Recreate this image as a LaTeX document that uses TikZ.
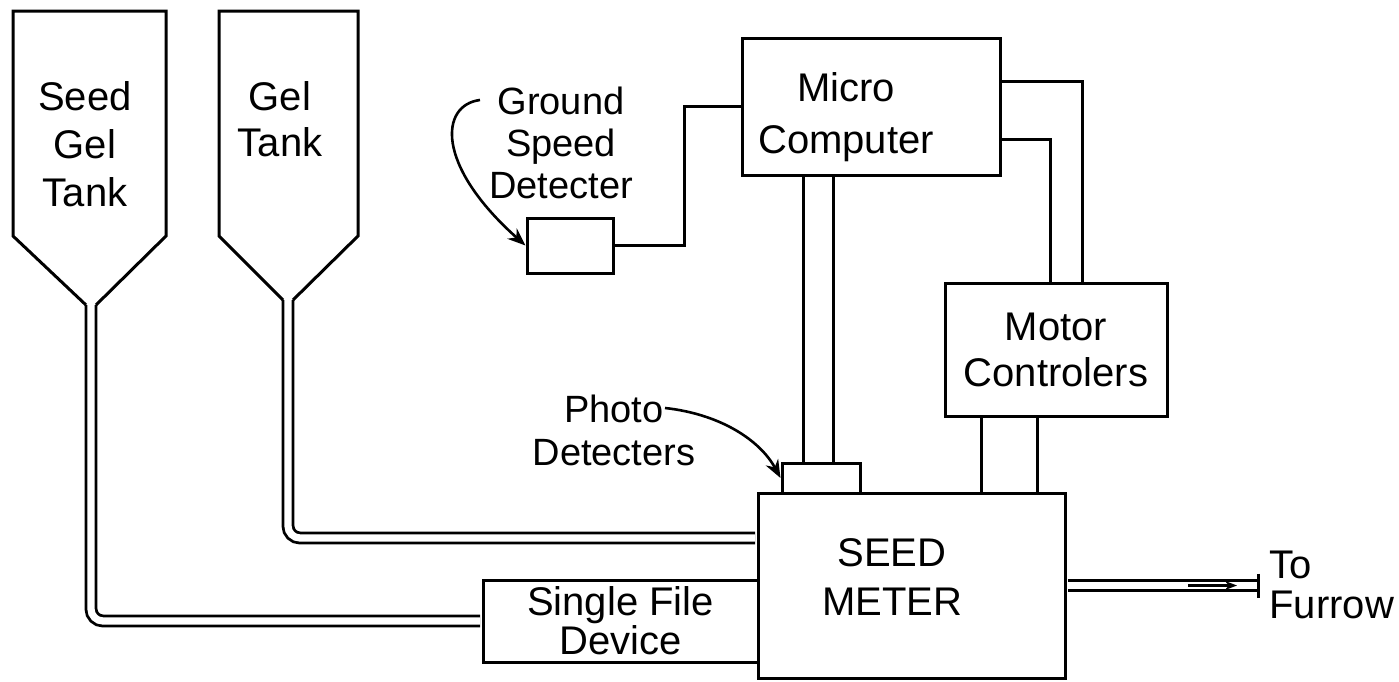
\documentclass[tikz,border=0pt]{standalone}
\usepackage{fontspec}
\setmainfont{Liberation Sans}
\usetikzlibrary{arrows.meta,positioning,calc}
\tikzset{
  blockbox/.style={draw, rectangle, inner sep=0pt, align=center},
  tube/.style={double, double distance=3.6pt, line width=1.4pt, rounded corners=6pt},
  pointer/.style={line width=1.3pt, -{Stealth[length=9pt,width=7pt]}},
  lbl/.style={align=center, inner sep=0pt}
}

\begin{document}
\begin{tikzpicture}[x=0.5pt, y=-0.5pt, line width=1.5pt, font=\fontsize{20}{23}\selectfont]
\useasboundingbox (0,0) rectangle (1399,681);

\node[blockbox, minimum width=129pt, minimum height=68.5pt] (micro) at (871,106.5) {};
\node[lbl, font=\fontsize{20}{26}\selectfont] (microtext) at (846,117) {Micro\\Computer};
\node[blockbox, minimum width=43pt, minimum height=27.5pt] (gsd) at (570,245.5) {};
\node[blockbox, minimum width=111pt, minimum height=66.5pt] (motor) at (1056,349.5) {Motor\\Controlers};
\node[blockbox, minimum width=39pt, minimum height=15pt] (photo) at (821,478) {};
\node[blockbox, minimum width=153.5pt, minimum height=92.5pt] (meter) at (911.5,585.5) {};
\node[lbl, font=\fontsize{20}{24.5}\selectfont] (metertext) at (892,577) {SEED\\METER};
\node[blockbox, minimum width=137.5pt, minimum height=41pt, font=\fontsize{20}{18.5}\selectfont] (single) at (620.5,621) {Single File\\Device};

\node[lbl, font=\fontsize{20}{24}\selectfont] (seedtank) at (85,144) {Seed\\Gel\\Tank};
\node[lbl, font=\fontsize{20}{23}\selectfont] (geltank) at (280,119) {Gel\\Tank};
\node[lbl, font=\fontsize{19}{21}\selectfont] (gsdtext) at (561,143) {Ground\\Speed\\Detecter};
\node[lbl, font=\fontsize{19}{21.5}\selectfont] (phototext) at (614,430) {Photo\\Detecters};
\node[lbl, anchor=west, align=left, font=\fontsize{20}{20}\selectfont] (furrowtext) at (1268,585) {To\\Furrow};

% tanks
\draw (86,305) -- (13,236) -- (13,11) -- (166,11) -- (166,236) -- (96,305);
\draw (283,300) -- (219,236) -- (219,11) -- (358,11) -- (358,236) -- (293,300);
\coordinate (seedneck) at (91,305);
\coordinate (gelneck) at (288,300);

\draw[tube, shorten >=0.7pt] (seedneck) |- (single.west);
\draw[tube, shorten >=0.7pt] (gelneck) |- ([yshift=23.75pt]meter.west);
\draw[tube, shorten <=0.7pt] (meter.east) -- (1258,585.5) coordinate (furrowend);
\draw[line width=1.2pt, -{Stealth[length=6pt,width=4.5pt]}] (1188,585.5) -- (1237,585.5);
\draw (furrowend) ++(0,-12) -- ++(0,24);

\draw (gsd.east) -- (684,245.5) |- (micro.west);
\coordinate (pd1) at ([xshift=-9pt]photo.north);
\coordinate (pd2) at ([xshift=6pt]photo.north);
\draw (pd1) -- (pd1 |- micro.south);
\draw (pd2) -- (pd2 |- micro.south);
\draw ([yshift=12.75pt]micro.east) -| ([xshift=13pt]motor.north);
\draw ([yshift=-16.25pt]micro.east) -| ([xshift=-3pt]motor.north);
\coordinate (mc1) at ([xshift=-37.5pt]motor.south);
\coordinate (mc2) at ([xshift=-9.5pt]motor.south);
\draw (mc1) -- (mc1 |- meter.north);
\draw (mc2) -- (mc2 |- meter.north);

\coordinate (gsdtail) at (480,100);
\coordinate (phototail) at (665,408);
\draw[pointer] (gsdtail) .. controls (440,105) and (435,165) .. (gsd.west);
\draw[pointer] (phototail) .. controls (720,414) and (760,440) .. (photo.west);
\end{tikzpicture}
\end{document}
